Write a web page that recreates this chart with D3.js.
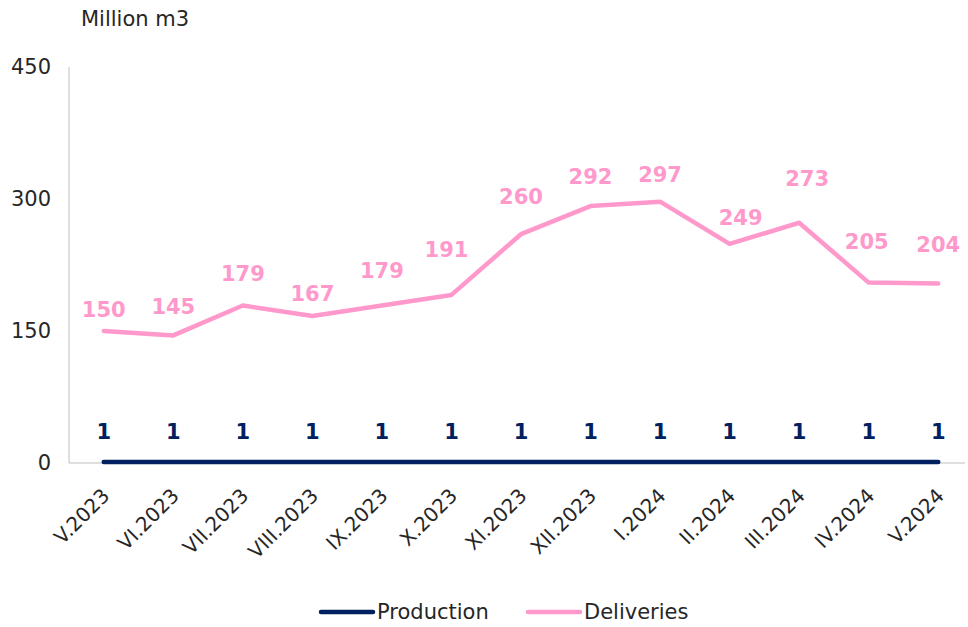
<!DOCTYPE html>
<html>
<head>
<meta charset="utf-8">
<script src="https://cdn.jsdelivr.net/npm/d3@7"></script>
<style>
  body { margin: 0; background: #fff; }
  svg { font-family: "DejaVu Sans", Verdana, sans-serif; }
</style>
</head>
<body>
<svg></svg>
<script>
'use strict'

const WIDTH = 968;
const HEIGHT = 627;

const months = ['V.2023', 'VI.2023', 'VII.2023', 'VIII.2023', 'IX.2023', 'X.2023', 'XI.2023',
  'XII.2023', 'I.2024', 'II.2024', 'III.2024', 'IV.2024', 'V.2024'];
const production = [1, 1, 1, 1, 1, 1, 1, 1, 1, 1, 1, 1, 1];
const deliveries = [150, 145, 179, 167, 179, 191, 260, 292, 297, 249, 273, 205, 204];
const yTicks = [0, 150, 300, 450];

// hand placed label nudges (dx, lift above the point), like the original
const deliveryLabelNudge = [[0, 21], [0, 28], [0, 31], [0, 22], [0, 34], [-5, 45], [0, 37],
  [0, 29], [0, 27], [11, 26], [8, 44], [-2, 41], [0, 38]];

const PROD_COLOR = '#002060';
const DEL_COLOR = '#ff99cc';
const TEXT_COLOR = '#262626';

const svg = d3.select('svg')
  .attr('width', WIDTH)
  .attr('height', HEIGHT);

const xScale = d3.scaleBand()
  .domain(months)
  .range([69, 973]);
const xc = d => xScale(d) + xScale.bandwidth() / 2;

const yScale = d3.scaleLinear()
  .domain([0, 450])
  .range([463, 67]);

// axis lines
svg.append('line')
  .attr('x1', 69).attr('x2', 69)
  .attr('y1', yScale(450)).attr('y2', yScale(0))
  .attr('stroke', '#bfbfbf');
svg.append('line')
  .attr('x1', 69).attr('x2', 965)
  .attr('y1', yScale(0)).attr('y2', yScale(0))
  .attr('stroke', '#bfbfbf');

// y tick labels
const leftAxis = d3.axisLeft(yScale).tickValues(yTicks).tickSize(0).tickPadding(18);
svg.append('g')
  .attr('id', 'left-axis')
  .attr('transform', 'translate(69,0)')
  .call(leftAxis)
  .call(g => g.select('.domain').remove())
  .selectAll('text')
  .attr('font-size', 21)
  .attr('font-family', '"DejaVu Sans", Verdana, sans-serif')
  .attr('fill', TEXT_COLOR);

svg.append('text')
  .attr('x', 81).attr('y', 26)
  .attr('font-size', 21)
  .attr('fill', TEXT_COLOR)
  .text('Million m3');

// x tick labels
const bottomAxis = d3.axisBottom(xScale).tickSize(0).tickPadding(0);
svg.append('g')
  .attr('id', 'bottom-axis')
  .attr('transform', 'translate(0,' + yScale(0) + ')')
  .call(bottomAxis)
  .call(g => g.select('.domain').remove())
  .selectAll('text')
  .attr('font-size', 20)
  .attr('font-family', '"DejaVu Sans", Verdana, sans-serif')
  .attr('fill', TEXT_COLOR)
  .attr('text-anchor', 'end')
  .attr('y', 0)
  .attr('dy', 0)
  .attr('transform', 'translate(7,34) rotate(-45)');

// lines
const line = d3.line()
  .x((d, i) => xc(months[i]))
  .y(d => yScale(d));

svg.append('path')
  .datum(production)
  .attr('d', line)
  .attr('fill', 'none')
  .attr('stroke', PROD_COLOR)
  .attr('stroke-width', 4.5)
  .attr('stroke-linecap', 'round');

svg.append('path')
  .datum(deliveries)
  .attr('d', line)
  .attr('fill', 'none')
  .attr('stroke', DEL_COLOR)
  .attr('stroke-width', 4.5)
  .attr('stroke-linejoin', 'round')
  .attr('stroke-linecap', 'round');

// data labels
svg.append('g').selectAll('text')
  .data(production)
  .enter().append('text')
  .attr('x', (d, i) => xc(months[i]))
  .attr('y', d => yScale(d) - 30)
  .attr('text-anchor', 'middle')
  .attr('dominant-baseline', 'central')
  .attr('font-size', 21)
  .attr('font-weight', 'bold')
  .attr('fill', PROD_COLOR)
  .text(d => d);

svg.append('g').selectAll('text')
  .data(deliveries)
  .enter().append('text')
  .attr('x', (d, i) => xc(months[i]) + deliveryLabelNudge[i][0])
  .attr('y', (d, i) => yScale(d) - deliveryLabelNudge[i][1])
  .attr('text-anchor', 'middle')
  .attr('dominant-baseline', 'central')
  .attr('font-size', 21)
  .attr('font-weight', 'bold')
  .attr('fill', DEL_COLOR)
  .text(d => d);

// legend
const legend = [['Production', PROD_COLOR, 320], ['Deliveries', DEL_COLOR, 527]];
const lg = svg.append('g').selectAll('g')
  .data(legend)
  .enter().append('g')
  .attr('transform', d => 'translate(' + d[2] + ',612)');
lg.append('line')
  .attr('x1', 1).attr('x2', 53)
  .attr('stroke', d => d[1])
  .attr('stroke-width', 4.5)
  .attr('stroke-linecap', 'round');
lg.append('text')
  .attr('x', 57)
  .attr('dominant-baseline', 'central')
  .attr('font-size', 21)
  .attr('fill', TEXT_COLOR)
  .text(d => d[0]);
</script>
</body>
</html>
